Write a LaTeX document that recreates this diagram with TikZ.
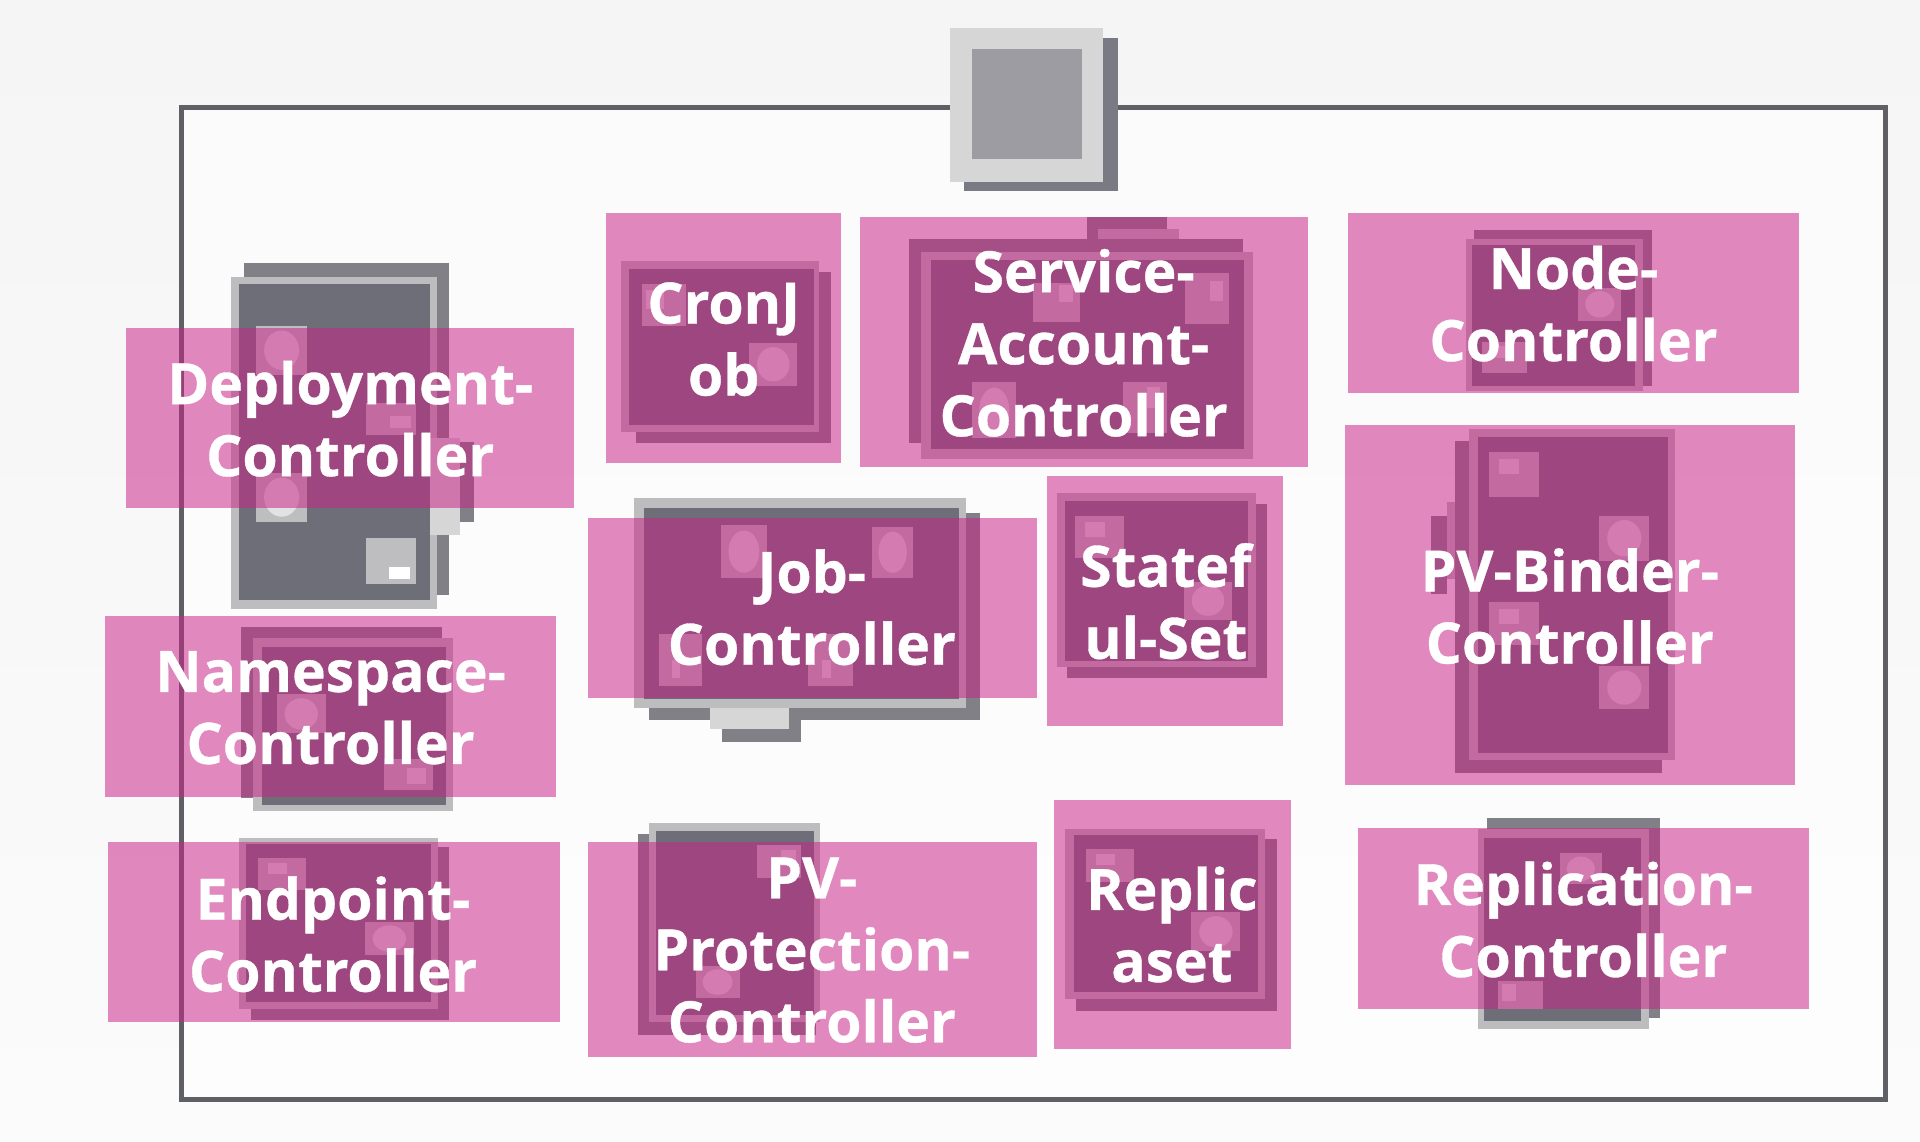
\documentclass[tikz,border=0pt]{standalone}
\usepackage{fontspec}
\setmainfont{Open Sans}[BoldFeatures={FakeBold=0.6}]
\definecolor{bgA}{HTML}{F5F5F5}
\definecolor{bgB}{HTML}{FBFBFB}
\definecolor{frameC}{HTML}{5F5F66}
\definecolor{shadeC}{HTML}{808086}
\definecolor{lightC}{HTML}{BDBDBF}
\definecolor{darkC}{HTML}{6E6E78}
\definecolor{paleC}{HTML}{D6D6D6}
\definecolor{midC}{HTML}{9C9CA2}
\definecolor{edgeC}{HTML}{7A7A84}
\definecolor{squareC}{HTML}{BEBEC0}
\definecolor{dotC}{HTML}{E2E2E4}
\definecolor{pinkC}{RGB}{201,35,135}
\tikzset{
  frameline/.style={draw=frameC,line width=5pt,line join=miter},
  shadebox/.style={fill=shadeC},
  lightbox/.style={fill=lightC},
  darkbox/.style={fill=darkC},
  pinkbox/.style={fill=pinkC,fill opacity=.53},
  label/.style={text=white,align=center,font=\fontsize{57}{72}\selectfont\bfseries,inner sep=0pt},
}
\newcommand\bx[5]{\fill[#1] (#2,#3) rectangle (#4,#5);}
\newcommand\sqC[4]{\fill[squareC] (#1,#2) rectangle (#3,#4);
  \fill[dotC] ({(#1+#3)/2},{(#2+#4)/2}) ellipse ({(#3-#1)*.34} and {(#4-#2)*.4});}
% square with an inner bar: last four arguments are fractions of the square
\newcommand\sqF[8]{\fill[squareC] (#1,#2) rectangle (#3,#4);
  \fill[dotC] ({#1+(#3-#1)*#5},{#2+(#4-#2)*#6}) rectangle ({#1+(#3-#1)*#7},{#2+(#4-#2)*#8});}
\newcommand\sqI[4]{\sqF{#1}{#2}{#3}{#4}{.2}{.15}{.6}{.5}}
\newcommand\dev[3]{\bx{shadebox}#1\bx{lightbox}#2\bx{darkbox}#3}
\begin{document}
\begin{tikzpicture}[x=1.22449pt,y=-1.22449pt]
\useasboundingbox (0,0) rectangle (1568,932);
\shade[top color=bgA,bottom color=bgB] (0,0) rectangle (1568,932);
\fill[white,opacity=.6] (148,88) rectangle (1540,898);
\draw[frameline] (148,88) rectangle (1540,898);
% top square
\bx{fill=edgeC}{787}{31}{913}{156}
\bx{fill=paleC}{776}{23}{901}{149}
\bx{fill=midC}{794}{40}{884}{130}
% Deployment
\bx{shadebox}{376}{361}{387}{426}
\dev{{199}{215}{367}{486}}{{188.5}{226}{357}{497}}{{195}{232}{351}{490}}
\bx{fill=paleC}{351}{358}{376}{437}
\sqC{209}{266}{251}{306}
\sqC{209}{386}{251}{426}
\sqF{299}{329}{340}{355}{.47}{.4}{.9}{.78}
\fill[squareC] (299,439) rectangle (340,477);
\fill[white] (318,463) rectangle (335,473);
% CronJob
\dev{{519}{222}{679}{362}}{{507}{213}{669}{353}}{{514}{220}{665}{347}}
\sqF{524}{232}{560}{266}{.1}{.15}{.5}{.6}
\sqC{612}{280}{651}{315}
% Service account
\bx{shadebox}{888}{177}{953}{196}
\bx{lightbox}{897}{187}{963}{206}
\dev{{742}{195}{1015}{362}}{{752}{206}{1023}{375}}{{760}{212}{1016}{367}}
\sqF{844}{231}{882}{263}{.55}{.05}{.85}{.5}
\sqF{968}{223}{1004}{265}{.55}{.15}{.85}{.55}
\sqC{794}{312}{830}{358}
\sqF{917}{312}{953}{354}{.55}{.1}{.85}{.5}
% Node
\dev{{1204}{188}{1349}{315}}{{1197}{195}{1342}{319}}{{1202}{200}{1335}{315}}
\sqC{1289}{235}{1324}{262}
\sqI{1210}{279}{1247}{305}
% PV binder
\bx{shadebox}{1169}{421}{1182}{485}
\bx{lightbox}{1182}{410}{1201}{473}
\dev{{1188}{360}{1357}{631}}{{1200}{350}{1368}{621}}{{1207}{357}{1362}{615}}
\sqI{1216}{369}{1257}{406}
\sqC{1306}{421}{1347}{458}
\sqI{1216}{492}{1257}{527}
\sqC{1306}{544}{1347}{579}
% Statefulset
\dev{{871}{412}{1035}{554}}{{863}{403}{1026}{545}}{{870}{409}{1019}{540}}
\sqI{878}{421}{918}{456}
\sqC{967}{475}{1006}{506}
% Job
\dev{{530}{419}{800}{588}}{{518}{407}{789}{578}}{{526}{415}{783}{571}}
\bx{shadebox}{590}{588}{654}{606}
\bx{fill=paleC}{580}{578}{644}{595}
\sqC{589}{429}{626}{472}
\sqC{712}{430}{746}{472}
\sqF{538}{518}{573}{560}{.3}{.5}{.5}{.85}
\sqF{660}{518}{697}{560}{.3}{.5}{.5}{.85}
% Namespace
\dev{{197}{512}{361}{652}}{{207}{521}{370}{662}}{{214}{528}{364}{657}}
\sqC{226}{567}{266}{599}
\sqF{314}{620}{354}{645}{.45}{.3}{.85}{.8}
% Endpoint
\dev{{205}{692}{367}{833}}{{195}{684}{358}{824}}{{201}{689}{352}{818}}
\sqI{211}{701}{250}{727}
\sqC{298}{753}{338}{780}
% PV protection
\dev{{521}{681}{666}{845}}{{530}{672}{670}{835}}{{536}{679}{665}{829}}
\sqF{618}{690}{654}{717}{.55}{.15}{.9}{.65}
\sqC{568}{789}{604}{815}
% Replicaset
\dev{{879}{685}{1043}{826}}{{870}{677}{1033}{816}}{{877}{682}{1027}{810}}
\sqI{887}{693}{926}{720}
\sqC{973}{745}{1013}{777}
% Replication
\dev{{1214}{668}{1356}{831}}{{1207}{677}{1347}{840}}{{1212}{684}{1340}{834}}
\sqC{1274}{697}{1308}{722}
\sqF{1223}{801}{1260}{824}{.1}{.1}{.4}{.7}
% Pink label boxes
\bx{pinkbox}{103}{268}{469}{415}
\bx{pinkbox}{495}{174}{687}{378}
\bx{pinkbox}{702}{177}{1068}{381}
\bx{pinkbox}{1101}{174}{1469}{321}
\bx{pinkbox}{1098}{347}{1466}{641}
\bx{pinkbox}{480}{423}{847}{570}
\bx{pinkbox}{855}{389}{1048}{593}
\bx{pinkbox}{86}{503}{454}{651}
\bx{pinkbox}{88}{688}{457}{835}
\bx{pinkbox}{480}{688}{847}{863}
\bx{pinkbox}{861}{653}{1054}{857}
\bx{pinkbox}{1109}{676}{1477}{824}
% Labels
\node[label] (deployment) at (286,342) {Deployment-\\Controller};
\node[label] (cronjob) at (591,277) {CronJ\\ob};
\node[label] (serviceaccount) at (885,280) {Service-\\Account-\\Controller};
\node[label] (nodectl) at (1285,248) {Node-\\Controller};
\node[label] (pvbinder) at (1282,495) {PV-Binder-\\Controller};
\node[label] (job) at (663,496) {Job-\\Controller};
\node[label] (statefulset) at (952,491) {Statef\\ul-Set};
\node[label] (namespace) at (270,578) {Namespace-\\Controller};
\node[label] (endpoint) at (272,763) {Endpoint-\\Controller};
\node[label] (pvprotection) at (663,776) {PV-\\Protection-\\Controller};
\node[label] (replicaset) at (957,755) {Replic\\aset};
\node[label] (replication) at (1293,751) {Replication-\\Controller};
\end{tikzpicture}
\end{document}
